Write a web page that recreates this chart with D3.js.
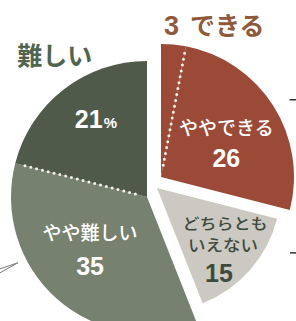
<!DOCTYPE html>
<html>
<head>
<meta charset="utf-8">
<script src="https://cdn.jsdelivr.net/npm/d3@7"></script>
<style>
body { margin: 0; background: #fff; }
svg { display: block; }
</style>
</head>
<body>
<script>
// survey answers (%), clockwise from 12 o'clock
var categories = ["できる", "ややできる", "どちらともいえない", "やや難しい", "難しい"];
var values = [3, 26, 15, 35, 21];
// which separated piece each slice sits in
var pieceOf = [0, 0, 1, 2, 2];
var insideNames = [[], ["ややできる"], ["どちらとも", "いえない"], ["やや難しい"], []];
var insideNumbers = ["", "26", "15", "35", "21"];

var width = 296, height = 321;

// pieces: apex position + radius (layout only)
var pieces = [
	{ x: 161, y: 177, r: 133 },
	{ x: 157, y: 188, r: 124 },
	{ x: 147, y: 197, r: 136 }
];
var colors = ["#9b4a37", "#9b4a37", "#cbc9c2", "#77816f", "#4f5a4a"];
var textColors = ["#fff", "#fff", "#3f4a3f", "#fff", "#fff"];
var labelR = [0, 75, 88, 77, 98];
var labelNudge = [[0, 0], [2, 5], [0, 1], [-6, -5], [9, -2]];

var svg = d3.select("body").append("svg")
	.attr("width", width)
	.attr("height", height);

var pie = d3.pie().sort(null).value(function(d) { return d; });
var arcs = pie(values);

function polar(p, ang, rr) {
	return [p.x + rr * Math.sin(ang), p.y - rr * Math.cos(ang)];
}

// slices
arcs.forEach(function(a, i) {
	var p = pieces[pieceOf[i]];
	var arc = d3.arc().innerRadius(0).outerRadius(p.r);
	svg.append("path")
		.attr("transform", "translate(" + p.x + "," + p.y + ")")
		.attr("d", arc(a))
		.attr("fill", colors[i]);
});

// dotted dividers inside a piece
[1, 4].forEach(function(i) {
	var p = pieces[pieceOf[i]];
	var a0 = polar(p, arcs[i].startAngle, 12);
	var a1 = polar(p, arcs[i].startAngle, p.r - 5);
	svg.append("line")
		.attr("x1", a0[0]).attr("y1", a0[1])
		.attr("x2", a1[0]).attr("y2", a1[1])
		.attr("stroke", "#f4f1ea")
		.attr("stroke-width", 3)
		.attr("stroke-linecap", "round")
		.attr("stroke-dasharray", "0,6");
});

// labels inside slices
arcs.forEach(function(a, i) {
	if (!insideNumbers[i]) return;
	var p = pieces[pieceOf[i]];
	var mid = (a.startAngle + a.endAngle) / 2;
	var c = polar(p, mid, labelR[i]);
	var cx = c[0] + labelNudge[i][0], cy = c[1] + labelNudge[i][1];
	var names = insideNames[i];
	var g = svg.append("g").attr("fill", textColors[i]).attr("text-anchor", "middle");

	if (i == 1) {
		nameLine(g, names[0], cx, cy - 7, 19, 1);
		numLine(g, insideNumbers[i], cx, cy + 25);
	} else if (i == 2) {
		// tight two-line name: squeeze a little vertically
		nameLine(g, names[0], cx + 2, cy - 18, 17, 0.88);
		nameLine(g, names[1], cx, cy + 4, 17.5, 0.88);
		numLine(g, insideNumbers[i], cx - 4, cy + 35);
	} else if (i == 3) {
		nameLine(g, names[0], cx, cy - 10, 19, 1);
		numLine(g, insideNumbers[i], cx, cy + 25);
	} else if (i == 4) {
		var t4 = numLine(g, insideNumbers[i], cx, cy + 10);
		t4.append("tspan").attr("font-size", 15).attr("dx", 1).text("%");
	}
});

function nameLine(g, s, x, y, size, sy) {
	return g.append("text")
		.attr("transform", "translate(" + x + "," + y + ") scale(1," + sy + ")")
		.attr("font-family", "'Noto Sans CJK JP', sans-serif")
		.attr("font-weight", 500)
		.attr("font-size", size)
		.text(s);
}

function numLine(g, s, x, y) {
	return g.append("text")
		.attr("x", x).attr("y", y)
		.attr("font-family", "'Liberation Sans', Arial, sans-serif")
		.attr("font-weight", "bold")
		.attr("font-size", 25)
		.text(s);
}

// outside labels
var top0 = polar(pieces[0], arcs[0].startAngle, pieces[0].r + 9);
var t3 = svg.append("text")
	.attr("x", top0[0] + 3).attr("y", top0[1])
	.attr("fill", "#8e5a3b")
	.attr("font-weight", "bold");
t3.append("tspan")
	.attr("font-family", "'Liberation Sans', Arial, sans-serif")
	.attr("font-size", 27)
	.text(values[0]);
t3.append("tspan")
	.attr("dx", 11)
	.attr("font-family", "'Noto Sans CJK JP', sans-serif")
	.attr("font-size", 25)
	.text(categories[0]);

var hard = polar(pieces[2], 325 * Math.PI / 180, 161);
svg.append("text")
	.attr("x", hard[0]).attr("y", hard[1])
	.attr("text-anchor", "middle")
	.attr("fill", "#50654f")
	.attr("font-family", "'Noto Sans CJK JP', sans-serif")
	.attr("font-weight", "bold")
	.attr("font-size", 25)
	.text(categories[4]);

// leader stubs running off the frame
var l1 = polar(pieces[0], 59 * Math.PI / 180, 150);
svg.append("line")
	.attr("x1", l1[0]).attr("y1", l1[1]).attr("x2", width).attr("y2", l1[1])
	.attr("stroke", "#333").attr("stroke-width", 1.5);
var l2 = polar(pieces[1], 116 * Math.PI / 180, 148);
svg.append("line")
	.attr("x1", l2[0]).attr("y1", l2[1]).attr("x2", width).attr("y2", l2[1])
	.attr("stroke", "#333").attr("stroke-width", 1.5);
var tip = polar(pieces[2], 243 * Math.PI / 180, 145);
svg.append("path")
	.attr("d", "M0," + (tip[1] + 6) + "L" + tip[0] + "," + tip[1] + "L0," + (tip[1] + 10))
	.attr("fill", "none")
	.attr("stroke", "#777").attr("stroke-width", 1);
</script>
</body>
</html>
